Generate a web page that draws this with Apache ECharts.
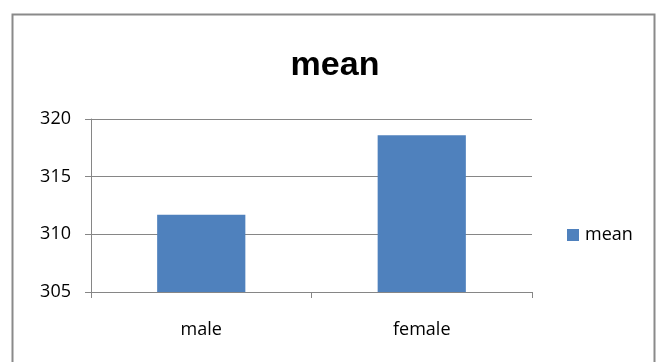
<!DOCTYPE html>
<html><head><meta charset="utf-8">
<script src="https://cdn.jsdelivr.net/npm/echarts@6/dist/echarts.min.js"></script>
<style>html,body{margin:0;padding:0;background:#fff}#c{width:657px;height:362px}</style>
</head><body><div id="c"></div>
<script>
const categories = ['male', 'female'];
const meanValues = [311.7, 318.6];
const yTicks = [305, 310, 315, 320];

const chart = echarts.init(document.getElementById('c'));
chart.setOption({
  animation: false,
  graphic: [{
    type: 'rect', shape: { x: 12.5, y: 14.5, width: 642, height: 360 },
    style: { fill: 'none', stroke: '#8a8a8a', lineWidth: 2 }, silent: true
  }],
  title: {
    text: 'mean', left: 330, top: 44, textAlign: 'center',
    textStyle: { fontFamily: 'Liberation Sans', fontWeight: 'bold', fontSize: 34, color: '#000' }
  },
  legend: {
    data: ['mean'], left: 562, top: 221, itemWidth: 12, itemHeight: 12, itemGap: 5, icon: 'rect',
    textStyle: { fontFamily: 'Open Sans', fontSize: 18, color: '#000', padding: [0, 0, 0, 1] }
  },
  grid: { left: 91, right: 125, top: 119, bottom: 70 },
  xAxis: {
    type: 'category', data: categories,
    axisLine: { lineStyle: { color: '#868686', width: 1 } },
    axisTick: { show: true, length: 6, lineStyle: { color: '#868686' } },
    axisLabel: { fontFamily: 'Open Sans', fontSize: 18, color: '#000', margin: 29 }
  },
  yAxis: {
    type: 'value', min: yTicks[0], max: yTicks[yTicks.length - 1], interval: 5,
    axisLine: { show: true, lineStyle: { color: '#868686', width: 1 } },
    axisTick: { show: true, length: 6, lineStyle: { color: '#868686' } },
    splitLine: { lineStyle: { color: '#868686', width: 1 } },
    axisLabel: { fontFamily: 'Open Sans', fontSize: 18, color: '#000', margin: 20 }
  },
  series: [{
    name: 'mean', type: 'bar', data: meanValues, barWidth: '40%',
    itemStyle: { color: '#4F81BD' }
  }]
});
</script></body></html>
